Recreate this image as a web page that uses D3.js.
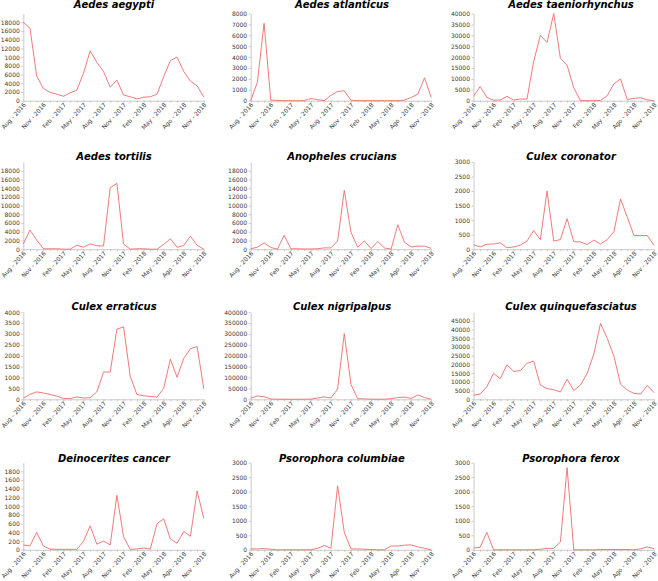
<!DOCTYPE html>
<html>
<head>
<meta charset="utf-8">
<script src="https://cdn.jsdelivr.net/npm/d3@7"></script>
<style>
  html, body { margin: 0; padding: 0; background: #fff; }
  svg { display: block; }
  .tick text { font-family: "DejaVu Sans", Verdana, sans-serif; }
</style>
</head>
<body>
<svg id="chart" width="658" height="581"></svg>
<script>
// ---------------- DATA ----------------
const species = [
  "Aedes aegypti", "Aedes atlanticus", "Aedes taeniorhynchus",
  "Aedes tortilis", "Anopheles crucians", "Culex coronator",
  "Culex erraticus", "Culex nigripalpus", "Culex quinquefasciatus",
  "Deinocerites cancer", "Psorophora columbiae", "Psorophora ferox"
];

// 28 monthly samples, Aug 2016 .. Nov 2018
const xTickIndex = [0, 3, 6, 9, 12, 15, 18, 21, 24, 27];
const xTickLabels = ["Aug - 2016", "Nov - 2016", "Feb - 2017", "May - 2017", "Aug - 2017",
                     "Nov - 2017", "Feb - 2018", "May - 2018", "Ago - 2018", "Nov - 2018"];

const aedesAegypti        = [18000,16600,5700,2800,1900,1500,1000,1800,2400,6300,11400,8800,6700,3100,4700,1300,900,400,800,900,1500,5500,9200,10000,6700,4500,3400,800];
const aedesAtlanticus     = [0,1700,7100,50,30,0,0,0,0,200,100,0,500,850,900,50,0,0,0,0,0,0,0,50,300,600,2100,300];
const aedesTaeniorhynchus = [2000,6500,1500,200,300,2000,300,800,700,18000,30000,26700,40000,19400,16300,5900,0,0,0,100,2300,7700,10000,500,1100,1300,400,0];
const aedesTortilis       = [1200,4400,2100,100,100,100,0,0,900,450,1200,800,750,14100,15100,1200,0,100,100,0,0,1100,2400,450,850,3000,900,0];
const anophelesCrucians   = [100,450,1450,400,0,3200,100,100,50,50,100,300,300,1900,13500,3900,450,1900,150,1750,300,0,5600,1600,500,700,700,200];
const culexCoronator      = [150,80,170,180,220,50,80,140,280,640,330,2000,280,330,1050,260,250,160,310,180,330,600,1730,1100,470,470,470,130];
const culexErraticus      = [50,230,340,290,220,150,40,30,110,60,70,340,1250,1250,3220,3320,1050,220,160,130,100,500,1840,1010,1880,2320,2420,480];
const culexNigripalpus    = [5000,15000,12000,1500,500,500,300,300,500,1000,6000,11000,6000,47000,301000,68000,3000,2000,500,500,500,3000,8000,10000,4000,20000,8000,1000];
const culexQuinque        = [2300,3000,7200,14900,11800,19800,16000,16400,20600,21900,8200,6100,5500,4200,11500,5000,8200,14900,26000,43500,35000,24800,8600,5300,3400,3000,8000,3800];
const deinoceritesCancer  = [110,90,400,90,15,10,10,10,10,190,550,130,200,110,1250,300,10,20,40,15,600,710,250,150,420,310,1350,720];
const psorophoraColumbiae = [30,30,40,20,0,0,0,0,0,0,50,150,50,2200,600,30,30,20,10,0,0,130,130,160,170,100,50,0];
const psorophoraFerox     = [60,90,600,0,0,0,0,0,0,0,20,50,50,270,2830,0,0,0,0,10,10,10,10,10,0,30,100,40];

const seriesValues = [aedesAegypti, aedesAtlanticus, aedesTaeniorhynchus, aedesTortilis,
  anophelesCrucians, culexCoronator, culexErraticus, culexNigripalpus, culexQuinque,
  deinoceritesCancer, psorophoraColumbiae, psorophoraFerox];

// y-axis maximum and tick values / labels per panel
const yMax = [20000, 8000, 40000, 20000, 20000, 3000, 4000, 400000, 50000, 2000, 3000, 3000];
const yTickValues = [
  [0,2000,4000,6000,8000,10000,12000,14000,16000,18000],
  [0,1000,2000,3000,4000,5000,6000,7000,8000],
  [0,5000,10000,15000,20000,25000,30000,35000,40000],
  [0,2000,4000,6000,8000,10000,12000,14000,16000,18000],
  [0,2000,4000,6000,8000,10000,12000,14000,16000,18000],
  [0,500,1000,1500,2000,2500,3000],
  [0,500,1000,1500,2000,2500,3000,3500,4000],
  [0,50000,100000,150000,200000,250000,300000,350000,400000],
  [0,5000,10000,15000,20000,25000,30000,35000,40000,45000],
  [0,200,400,600,800,1000,1200,1400,1600,1800],
  [0,500,1000,1500,2000,2500,3000],
  [0,500,1000,1500,2000,2500,3000]
];
const yTickLabels = [
  ["0","2000","4000","6000","8000","1000","12000","14000","16000","18000"],
  ["0","1000","2000","3000","4000","5000","6000","7000","8000"],
  ["0","5000","10000","15000","20000","25000","30000","35000","40000"],
  ["0","2000","4000","6000","8000","10000","12000","14000","16000","18000"],
  ["0","2000","4000","6000","8000","10000","12000","14000","16000","18000"],
  ["0","500","1000","1500","2000","2500","3000"],
  ["0","500","1000","1500","2000","2500","3000","3500","4000"],
  ["0","50000","100000","150000","200000","250000","300000","350000","400000"],
  ["0","5000","10000","15000","20000","25000","30000","35000","40000","45000"],
  ["0","200","400","600","800","1000","1200","1400","1600","1800"],
  ["0","500","1000","1500","2000","2500","3000"],
  ["0","500","1000","1500","2000","2500","3000"]
];

// ---------------- LAYOUT ----------------
const colLeft = [23.3, 250.7, 473.5];
const plotW = 180.5;
const rowBottom = [100.7, 249.2, 399.3, 549.8];
const plotH = 87.2;
const titleY = [8, 160, 309.5, 461.5];
const titleX = [114, 342, 571];

const lineColor = "#ee6b6b";
const axisColor = "#bdbdbd";
const textColor = "#3a3a3a";
const FONT = '"DejaVu Sans", Verdana, sans-serif';

const svg = d3.select("#chart");

species.forEach((name, i) => {
  const col = i % 3, row = Math.floor(i / 3);
  const left = colLeft[col], bottom = rowBottom[row];
  const vals = seriesValues[i];

  const x = d3.scaleLinear().domain([0, vals.length - 1]).range([left, left + plotW]);
  const y = d3.scaleLinear().domain([0, yMax[i]]).range([bottom, bottom - plotH]);

  const g = svg.append("g");

  // title
  g.append("text")
    .attr("x", titleX[col]).attr("y", titleY[row])
    .attr("text-anchor", "middle")
    .style("font-family", FONT)
    .style("font-weight", "bold").style("font-style", "italic")
    .style("font-size", "10px").attr("fill", "#000")
    .text(name);

  // y axis
  const ya = g.append("g").attr("transform", `translate(${left},0)`)
    .call(d3.axisLeft(y).tickValues(yTickValues[i])
      .tickFormat((d, k) => yTickLabels[i][k])
      .tickSize(2).tickSizeOuter(0).tickPadding(1.5));
  ya.select(".domain").attr("stroke", axisColor).attr("stroke-width", 0.8);
  ya.selectAll(".tick line").attr("stroke", axisColor).attr("stroke-width", 0.8);
  ya.selectAll(".tick text").attr("fill", textColor).style("font-size", "6px");

  // x axis
  const xa = g.append("g").attr("transform", `translate(0,${bottom})`)
    .call(d3.axisBottom(x).tickValues(d3.range(vals.length))
      .tickFormat(() => "").tickSize(2).tickSizeOuter(0));
  xa.select(".domain").attr("stroke", axisColor).attr("stroke-width", 0.8);
  xa.selectAll(".tick line").attr("stroke", axisColor).attr("stroke-width", 0.8);

  // x tick labels (rotated)
  g.selectAll(".xl").data(xTickIndex).enter().append("text")
    .attr("class", "xl")
    .attr("transform", d => `translate(${x(d) + 1.5},${bottom + 3}) rotate(-48)`)
    .attr("text-anchor", "end").attr("dy", "0.35em")
    .style("font-family", FONT).style("font-size", "6px")
    .attr("fill", textColor)
    .text((d, k) => xTickLabels[k]);

  // line
  g.append("path").datum(vals)
    .attr("fill", "none").attr("stroke", lineColor).attr("stroke-width", 0.9)
    .attr("d", d3.line().x((d, k) => x(k)).y(d => y(d)));
});
</script>
</body>
</html>
